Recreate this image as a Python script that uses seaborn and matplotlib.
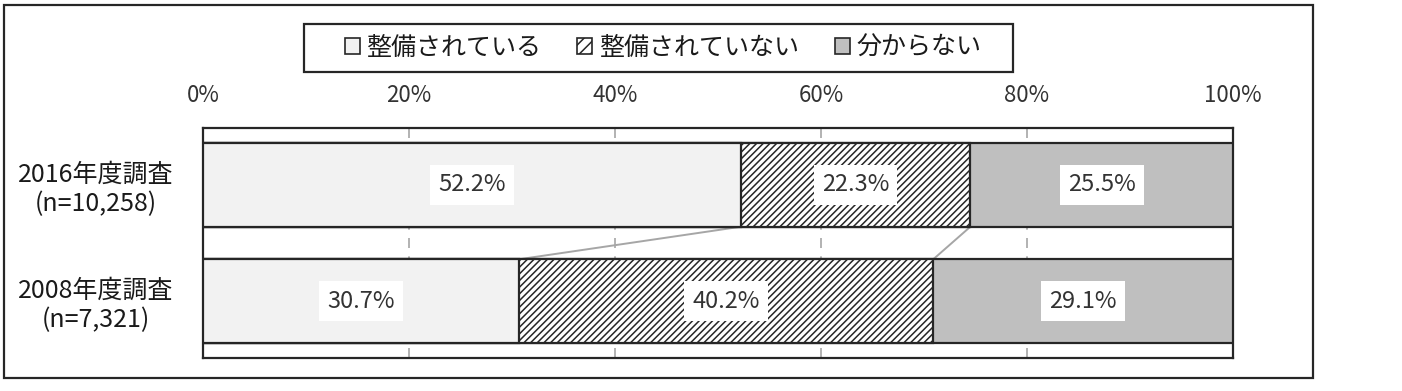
import numpy as np
import pandas as pd
import matplotlib
matplotlib.use("Agg")
import matplotlib.pyplot as plt
import matplotlib.patches as mpatches
import seaborn as sns

# ---- data ----
surveys = ["2016年度調査\n(n=10,258)", "2008年度調査\n(n=7,321)"]
categories = ["整備されている", "整備されていない", "分からない"]
ready = [52.2, 30.7]
not_ready = [22.3, 40.2]
unknown = [25.5, 29.1]
xticks = [0, 20, 40, 60, 80, 100]
xtick_labels = ["0%", "20%", "40%", "60%", "80%", "100%"]

sns.set_theme(style="white")
plt.rcParams["font.family"] = ["Noto Sans CJK JP", "DejaVu Sans"]
plt.rcParams["hatch.linewidth"] = 1.1
plt.rcParams["hatch.color"] = "#111111"

df = pd.DataFrame({
    "survey": surveys,
    "ready": ready,
    "not_ready": not_ready,
    "unknown": unknown,
})
df["c1"] = df["ready"]
df["c2"] = df["ready"] + df["not_ready"]
df["c3"] = df["c2"] + df["unknown"]

fig = plt.figure(figsize=(14.02, 3.91), dpi=100)
ax = fig.add_axes([203 / 1402, 1 - 358 / 391, (1233 - 203) / 1402, (358 - 128) / 391])

colors = ["#f2f2f2", "white", "#bfbfbf"]
hatch_pat = "/////"
hatches = [None, hatch_pat, None]
edge = "#262626"
bw = 0.72
text_col = "#333333"

layers = [("c3", 2), ("c2", 1), ("c1", 0)]
for col, k in layers:
    kw = dict(hatch=hatches[k]) if hatches[k] else {}
    sns.barplot(data=df, x=col, y="survey", orient="h", color=colors[k],
                saturation=1, edgecolor=edge, linewidth=1.6, width=bw,
                ax=ax, zorder=3, **kw)

# connector lines between bars
bounds16 = [df["c1"][0], df["c2"][0], df["c3"][0]]
bounds08 = [df["c1"][1], df["c2"][1], df["c3"][1]]
for a, b in zip(bounds16, bounds08):
    ax.plot([a, b], [0 + bw / 2, 1 - bw / 2], color="#a6a6a6", lw=1.4, zorder=2)

# value labels
for i in range(len(surveys)):
    starts = [0, df["c1"][i], df["c2"][i]]
    vals = [df["ready"][i], df["not_ready"][i], df["unknown"][i]]
    for s, v in zip(starts, vals):
        ax.text(s + v / 2, i, f"{v:.1f}%", ha="center", va="center",
                fontsize=17, color=text_col, zorder=5,
                bbox=dict(facecolor="white", edgecolor="none", pad=6))

ax.set_xlim(0, 100)
ax.set_ylim(1.49, -0.49)
ax.set_xlabel("")
ax.set_ylabel("")
ax.xaxis.tick_top()
ax.set_xticks(xticks)
ax.set_xticklabels(xtick_labels, fontsize=16, color=text_col)
ax.tick_params(axis="x", length=0, pad=15)
ax.tick_params(axis="y", length=0, pad=21)
for lab in ax.get_yticklabels():
    lab.set_fontsize(18)
    lab.set_color("#1a1a1a")
    lab.set_multialignment("center")
    lab.set_linespacing(1.15)
for x in xticks[1:-1]:
    ax.axvline(x, color="#a6a6a6", lw=1.2, ls=(0, (6, 5)), zorder=1)
for sp in ax.spines.values():
    sp.set_visible(True)
    sp.set_color(edge)
    sp.set_linewidth(1.6)

# legend
handles = [
    mpatches.Patch(facecolor=colors[0], edgecolor=edge, lw=1.2, label=categories[0]),
    mpatches.Patch(facecolor=colors[1], edgecolor=edge, lw=1.2, hatch="///", label=categories[1]),
    mpatches.Patch(facecolor=colors[2], edgecolor=edge, lw=1.2, label=categories[2]),
]
leg = fig.legend(handles=handles, loc="center", bbox_to_anchor=(663 / 1402, 1 - 48 / 391),
                 ncol=3, fontsize=18, frameon=False,
                 handlelength=0.6, handleheight=0.6, handletextpad=0.25,
                 columnspacing=1.45, borderpad=0)
for t in leg.get_texts():
    t.set_color("#1a1a1a")
fig.patches.append(mpatches.Rectangle((304 / 1402, 1 - 72 / 391), 709 / 1402, 48 / 391,
                                      transform=fig.transFigure, fill=False,
                                      edgecolor=edge, lw=1.6))

# outer border
fig.patches.append(mpatches.Rectangle((4 / 1402, 1 - 378 / 391), 1309 / 1402, 373 / 391,
                                      transform=fig.transFigure, fill=False,
                                      edgecolor=edge, lw=1.6))

fig.savefig("out.png", dpi=100)
